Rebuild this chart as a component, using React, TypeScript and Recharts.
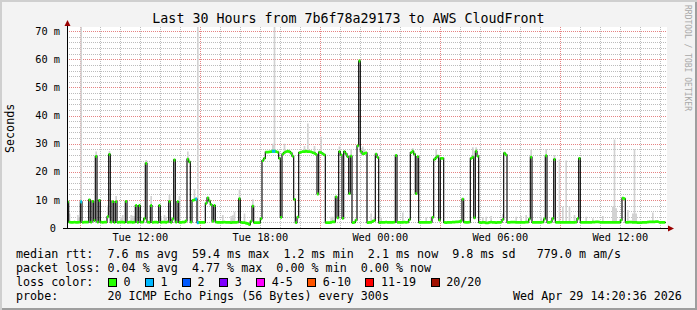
import { Area, ComposedChart, Line, Scatter, XAxis, YAxis } from "recharts"

const MONO = '"DejaVu Sans Mono", monospace'

// median rtt (ms), one value per 5 minutes, Tue 08:20 .. Wed 14:15, one row per hour
const medianRtt = [
  9.3, 2.1, 2.0, 2.0, 2.1, 2.0, 2.0, 2.1, 9.3, 2.0, 2.1, 2.1,
  2.1, 10.0, 2.1, 9.5, 2.6, 25.5, 2.1, 9.8, 2.1, 2.0, 2.1, 2.1,
  4.0, 26.2, 2.1, 9.4, 2.0, 9.4, 2.0, 2.1, 2.1, 2.1, 2.0, 9.5,
  2.0, 2.1, 2.1, 2.0, 2.1, 8.0, 2.0, 8.0, 2.1, 2.1, 3.3, 23.0,
  2.1, 2.0, 8.0, 2.0, 2.1, 2.1, 2.0, 8.0, 2.0, 2.1, 2.1, 2.0,
  2.2, 9.5, 2.0, 3.2, 24.2, 2.1, 9.4, 2.0, 2.0, 2.1, 2.1, 2.5,
  24.5, 23.5, 2.1, 9.8, 10.0, 10.3, 1.9, 2.0, 2.0, 2.0, 2.0, 8.8,
  10.7, 9.6, 8.3, 2.4, 8.0, 2.1, 2.0, 2.0, 2.0, 2.0, 2.1, 2.0,
  2.0, 2.0, 1.9, 2.0, 2.0, 2.0, 2.1, 10.4, 2.0, 1.9, 1.9, 1.7,
  1.6, 1.2, 2.4, 7.8, 1.9, 1.9, 1.9, 1.9, 3.3, 24.0, 24.8, 27.0,
  27.0, 27.1, 27.2, 27.3, 27.3, 27.2, 27.0, 24.8, 3.8, 26.3, 26.8, 27.2,
  27.3, 27.2, 26.6, 25.6, 10.2, 1.9, 3.9, 26.8, 27.0, 27.2, 27.2, 27.3,
  27.2, 27.2, 27.1, 26.8, 26.6, 26.2, 12.1, 27.0, 26.8, 26.4, 26.0, 1.9,
  1.9, 1.9, 2.0, 2.2, 2.2, 11.1, 3.6, 27.2, 26.0, 3.4, 27.2, 26.4,
  25.4, 12.2, 25.6, 1.9, 2.0, 2.8, 29.2, 59.4, 27.2, 26.4, 26.5, 26.7,
  1.9, 2.0, 2.0, 2.4, 2.6, 26.3, 25.1, 1.9, 2.0, 2.0, 2.0, 2.1,
  2.0, 2.0, 2.0, 2.0, 2.1, 25.8, 2.0, 2.0, 2.0, 2.0, 2.1, 2.0,
  2.1, 3.0, 26.8, 27.3, 26.3, 12.2, 25.4, 2.0, 2.0, 2.0, 2.0, 2.0,
  2.0, 2.0, 2.1, 3.8, 24.4, 25.0, 25.6, 2.8, 24.8, 24.8, 2.0, 1.9,
  2.0, 2.0, 2.0, 2.1, 2.1, 2.2, 2.2, 2.3, 2.5, 10.3, 2.1, 2.0,
  2.0, 2.1, 24.8, 25.2, 3.6, 27.3, 25.6, 2.0, 1.9, 2.0, 2.0, 1.8,
  1.8, 2.0, 2.1, 2.0, 2.0, 1.9, 2.0, 2.0, 2.1, 3.0, 26.6, 26.0,
  2.0, 2.0, 2.1, 2.1, 2.1, 2.0, 2.0, 2.0, 2.0, 2.0, 2.0, 2.1,
  2.1, 3.2, 25.2, 2.0, 2.0, 2.0, 2.0, 2.0, 2.0, 2.1, 3.2, 25.7,
  2.0, 2.0, 2.2, 3.3, 24.4, 2.0, 2.0, 2.0, 2.0, 2.0, 2.0, 2.0,
  2.0, 2.0, 2.0, 2.0, 2.0, 2.1, 3.3, 24.8, 2.0, 2.0, 2.0, 2.0,
  2.0, 2.0, 2.0, 2.1, 2.1, 2.2, 2.2, 2.1, 2.0, 2.0, 2.0, 2.0,
  2.0, 2.0, 2.0, 2.0, 2.0, 2.0, 2.0, 2.0, 2.8, 10.6, 10.4, 2.0,
  2.0, 2.1, 2.1, 2.0, 2.0, 2.0, 1.9, 1.9, 1.9, 2.0, 2.0, 2.0,
  2.1, 2.2, 2.2, 2.2, 2.2, 2.3, 2.3, 2.0, 2.0, 2.0, 2.0, 2.1,
]

// steps where 1 of 20 pings was lost (drawn in the "1" colour)
const lossAt = [8, 77, 78, 123, 124]

// smoke: slowest ping of a step, only where it shows above the median
const smokeAt = [
  1, 6, 7, 8, 17, 24, 25, 29, 32, 33, 38, 39, 40, 47, 50, 56, 58, 59, 61, 67,
  72, 76, 78, 93, 98, 99, 100, 103, 106, 111, 123, 124, 130, 142, 144, 148, 152, 158, 159, 163,
  170, 176, 177, 178, 182, 184, 188, 201, 207, 215, 218, 221, 243, 245, 249, 251, 254, 261, 269, 272,
  275, 278, 284, 287, 292, 295, 297, 299, 301, 304, 311, 315, 321, 327, 328, 329, 336, 339, 340, 341,
  351,
]
const smokeTop = [
  5.2, 4.6, 3.8, 72, 27.2, 8.0, 27.4, 11.4, 4.0, 4.6, 4.6, 4.4, 4.2, 24.2, 11.4, 4.3, 4.6, 4.0, 11.7, 11.4,
  27.2, 13.8, 72, 4.6, 4.3, 4.5, 5.8, 13.8, 5.2, 10.2, 30.0, 72, 30.0, 29.2, 37.2, 29.2, 32.5, 4.0, 4.0, 29.0,
  28.0, 28.5, 29.0, 28.0, 5.2, 4.0, 4.0, 5.5, 28.4, 3.8, 4.0, 28.0, 28.7, 28.7, 3.8, 4.0, 4.3, 5.0, 4.0, 4.3,
  4.6, 27.8, 4.0, 28.0, 26.0, 24.4, 7.6, 24.0, 7.6, 4.6, 4.0, 3.5, 4.3, 7.6, 31.5, 7.0, 6.4, 5.2, 28.0, 5.2,
  5.5,
]

const tickMinutes = [220, 580, 940, 1300, 1660]
const tickLabels = ["Tue 12:00", "Tue 18:00", "Wed 00:00", "Wed 06:00", "Wed 12:00"]
const yTicks = [0, 10, 20, 30, 40, 50, 60, 70]

const lossLabels = ["0", "1", "2", "3", "4-5", "6-10", "11-19", "20/20"]
const lossColors = ["#26ff00", "#00b8ff", "#0059ff", "#7e00ff", "#ff00ff", "#ff5500", "#ff0000", "#a01000"]

const STEP = 5
const SPAN = 1800
const Y_MAX = 71.5
const BAND = 0.5

// plot box inside the 697x310 image
const PLOT = { left: 67, top: 27, width: 600, height: 201 }
const STEP_PX = PLOT.width / (SPAN / STEP)

const rows = medianRtt.map((med, i) => {
  const k = smokeAt.indexOf(i)
  return {
    t: i * STEP,
    med,
    band: [med - BAND, med + BAND],
    smoke: [med, k >= 0 ? smokeTop[k] : med],
  }
})
const lossRows = lossAt.map((i) => ({ t: i * STEP + STEP / 2, med: medianRtt[i] }))

// grid: every hour / every 2 ms, red every 6 h / 10 ms
const hourLines = Array.from({ length: 30 }, (_, k) => 40 + 60 * k)
const msLines = Array.from({ length: 35 }, (_, k) => 2 * (k + 1))

const MINOR = "#bcbcbc"
const MAJOR = "#e58383"

const gx = (t: number) => Math.round(PLOT.left + (PLOT.width * t) / SPAN) + 0.5
const gy = (v: number) => Math.round(PLOT.top + PLOT.height * (1 - v / Y_MAX)) + 0.5

function GridLayer() {
  const bottom = PLOT.top + PLOT.height
  const right = PLOT.left + PLOT.width
  return (
    <svg width={697} height={310} style={{ position: "absolute", left: 0, top: 0 }}>
      <rect x={PLOT.left} y={PLOT.top} width={PLOT.width} height={PLOT.height} fill="#fff" />
      {hourLines.map((t, k) => (
        <line
          key={`v${t}`}
          x1={gx(t)}
          x2={gx(t)}
          y1={PLOT.top}
          y2={bottom}
          stroke={k % 6 === 0 ? MAJOR : MINOR}
          strokeDasharray="1 1"
        />
      ))}
      {msLines.map((v) => (
        <line
          key={`h${v}`}
          x1={PLOT.left}
          x2={right}
          y1={gy(v)}
          y2={gy(v)}
          stroke={v % 10 === 0 ? MAJOR : MINOR}
          strokeDasharray="1 1"
        />
      ))}
    </svg>
  )
}

function YTick({ x, y, payload }: any) {
  const v = payload.value
  return (
    <text x={x} y={y} dx={v === 0 ? -4 : 0} dy="0.36em" textAnchor="end" fontSize={10.3} fontFamily={MONO} fill="#000">
      {v === 0 ? "0" : `${v} m`}
    </text>
  )
}

function LossMark({ cx, cy }: { cx?: number; cy?: number }) {
  if (cx == null || cy == null) return null
  return <rect x={cx - STEP_PX / 2} y={cy - 1.5} width={STEP_PX} height={3} fill={lossColors[1]} />
}

const line = (top: number): React.CSSProperties => ({
  position: "absolute",
  left: 16,
  top,
  height: 14,
  lineHeight: "14px",
  fontSize: 11.7,
  fontFamily: MONO,
  whiteSpace: "pre",
  color: "#000",
})

export default function App() {
  return (
    <div
      style={{
        position: "relative",
        width: 697,
        height: 310,
        background: "#f3f3f3",
        boxShadow: "inset 2px 2px 0 #cfcfcf, inset -2px -2px 0 #9e9e9e",
        overflow: "hidden",
      }}
    >
      <style>{"body{margin:0}"}</style>
      <GridLayer />
      <div
        style={{
          position: "absolute",
          left: 0,
          top: 11,
          width: 697,
          textAlign: "center",
          fontSize: 13.3,
          lineHeight: "16px",
          fontFamily: MONO,
          whiteSpace: "pre",
        }}
      >
        Last 30 Hours from 7b6f78a29173 to AWS CloudFront
      </div>
      <div
        style={{
          position: "absolute",
          left: 3,
          top: 68,
          width: 15,
          height: 120,
          writingMode: "vertical-rl",
          transform: "rotate(180deg)",
          textAlign: "center",
          fontSize: 11.7,
          fontFamily: MONO,
        }}
      >
        Seconds
      </div>
      <div
        style={{
          position: "absolute",
          left: 682,
          top: 5,
          width: 10,
          writingMode: "vertical-rl",
          fontSize: 8,
          fontFamily: MONO,
          color: "#a8a8a8",
          whiteSpace: "pre",
        }}
      >
        RRDTOOL / TOBI OETIKER
      </div>

      <div style={{ position: "absolute", left: 0, top: 0 }}>
        <ComposedChart
          width={697}
          height={310}
          data={rows}
          margin={{ top: PLOT.top, right: 697 - PLOT.left - PLOT.width, bottom: 62, left: 0 }}
        >
          <XAxis
            dataKey="t"
            type="number"
            domain={[0, SPAN]}
            ticks={tickMinutes}
            interval={0}
            tickFormatter={(v: number) => tickLabels[tickMinutes.indexOf(v)]}
            height={20}
            tickSize={0}
            tickMargin={6}
            axisLine={false}
            tickLine={false}
            allowDataOverflow
            tick={{ fontSize: 10.3, fontFamily: MONO, fill: "#000" }}
          />
          <YAxis
            type="number"
            domain={[0, Y_MAX]}
            ticks={yTicks}
            interval={0}
            width={PLOT.left}
            tickSize={0}
            tickMargin={7}
            axisLine={false}
            tickLine={false}
            allowDataOverflow
            tick={<YTick />}
          />
          <Area
            dataKey="smoke"
            type="stepAfter"
            stroke="none"
            fill="#d2d2d2"
            fillOpacity={1}
            dot={false}
            activeDot={false}
            isAnimationActive={false}
            zIndex={100}
          />
          <Line
            dataKey="med"
            type="stepAfter"
            stroke="#111111"
            strokeWidth={1.2}
            dot={false}
            activeDot={false}
            isAnimationActive={false}
            zIndex={400}
          />
          <Area
            dataKey="band"
            type="stepAfter"
            stroke="none"
            fill={lossColors[0]}
            fillOpacity={1}
            dot={false}
            activeDot={false}
            isAnimationActive={false}
            zIndex={450}
          />
          <Scatter data={lossRows} dataKey="med" shape={<LossMark />} isAnimationActive={false} zIndex={600} />
        </ComposedChart>
      </div>

      {/* axes with rrdtool-style arrows */}
      <svg width={697} height={310} style={{ position: "absolute", left: 0, top: 0, pointerEvents: "none" }}>
        <line x1={67.5} y1={228} x2={67.5} y2={24} stroke="#000" strokeWidth={1} />
        <line x1={63} y1={228.5} x2={669} y2={228.5} stroke="#000" strokeWidth={1.2} />
        <polygon points="64.5,26 70.5,26 67.5,20" fill="#990000" />
        <polygon points="668,225.5 668,231.5 674,228.5" fill="#990000" />
      </svg>

      <div style={line(247)}>
        {"median rtt:  7.6 ms avg  59.4 ms max  1.2 ms min  2.1 ms now  9.8 ms sd   779.0 m am/s"}
      </div>
      <div style={line(261)}>{"packet loss: 0.04 % avg  4.77 % max  0.00 % min  0.00 % now"}</div>
      <div style={line(275)}>{"loss color:"}</div>
      <div
        style={{
          position: "absolute",
          left: 108,
          top: 275,
          height: 14,
          display: "flex",
          alignItems: "center",
          fontSize: 11.7,
          fontFamily: MONO,
          whiteSpace: "pre",
        }}
      >
        {lossLabels.map((label, k) => (
          <div key={label} style={{ display: "flex", alignItems: "center", marginRight: 14.5 }}>
            <span
              style={{
                boxSizing: "border-box",
                width: 9,
                height: 9,
                border: "1px solid #000",
                background: lossColors[k],
                marginRight: 6.5,
              }}
            />
            <span>{label}</span>
          </div>
        ))}
      </div>
      <div style={line(289)}>{"probe:       20 ICMP Echo Pings (56 Bytes) every 300s"}</div>
      <div style={{ ...line(289), left: 513 }}>{"Wed Apr 29 14:20:36 2026"}</div>
    </div>
  )
}
